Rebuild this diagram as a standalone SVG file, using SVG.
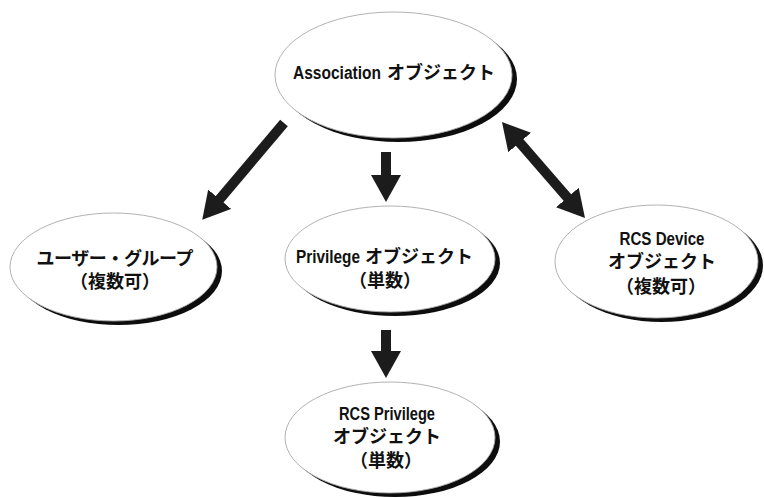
<svg xmlns="http://www.w3.org/2000/svg" width="764" height="498" viewBox="0 0 764 498">
  <style>
    .shadow { fill: #111; filter: url(#soft); }
    .body { fill: #fff; stroke: #a8a8a8; stroke-width: 0.9; }
    .lbl { font-family: "Liberation Sans", "Noto Sans CJK JP", sans-serif; font-weight: bold; font-size: 18px; fill: #111; text-anchor: middle; }
    .st { text-anchor: start; }
    .conn { stroke: #1c1c1c; stroke-width: 10; stroke-linecap: butt; fill: none; }
  </style>
  <defs>
    <filter id="soft" x="-10%" y="-10%" width="120%" height="120%">
      <feGaussianBlur stdDeviation="0.7"/>
    </filter>
    <marker id="head" markerUnits="userSpaceOnUse" markerWidth="27" markerHeight="30" viewBox="0 0 27 30" refX="1" refY="15" orient="auto-start-reverse">
      <path d="M0,0 L27,15 L0,30 Z" fill="#1c1c1c"/>
    </marker>
  </defs>
  <rect width="764" height="498" fill="#fff"/>

  <g id="connectors">
    <line class="conn" x1="284" y1="123" x2="219" y2="200" marker-end="url(#head)"/>
    <line class="conn" x1="386" y1="152" x2="386" y2="176" marker-end="url(#head)"/>
    <line class="conn" x1="519" y1="141.7" x2="568" y2="198.3" marker-start="url(#head)" marker-end="url(#head)"/>
    <line class="conn" x1="386" y1="330" x2="386" y2="352" marker-end="url(#head)"/>
  </g>

  <g id="association">
    <ellipse class="shadow" cx="398.5" cy="79" rx="118.5" ry="63"/>
    <ellipse class="body" cx="393.5" cy="75" rx="118.5" ry="63"/>
    <text class="lbl st" x="293" y="79" textLength="88" lengthAdjust="spacingAndGlyphs">Association</text>
    <text class="lbl st" x="387" y="79">オブジェクト</text>
  </g>

  <g id="user-group">
    <ellipse class="shadow" cx="118.5" cy="271" rx="103.5" ry="54"/>
    <ellipse class="body" cx="113.5" cy="267" rx="103.5" ry="54"/>
    <text class="lbl" x="115" y="265" textLength="157" lengthAdjust="spacing">ユーザー・グループ</text>
    <text class="lbl" x="115" y="288">（複数可）</text>
  </g>

  <g id="privilege">
    <ellipse class="shadow" cx="395" cy="263" rx="105" ry="53"/>
    <ellipse class="body" cx="390" cy="259" rx="105" ry="53"/>
    <text class="lbl st" x="296" y="263" textLength="64" lengthAdjust="spacingAndGlyphs">Privilege</text>
    <text class="lbl st" x="365" y="263">オブジェクト</text>
    <text class="lbl" x="385" y="287">（単数）</text>
  </g>

  <g id="rcs-device">
    <ellipse class="shadow" cx="661.5" cy="265.5" rx="101.5" ry="56.5"/>
    <ellipse class="body" cx="656.5" cy="261.5" rx="101.5" ry="56.5"/>
    <text class="lbl" x="662" y="245" textLength="85" lengthAdjust="spacingAndGlyphs">RCS Device</text>
    <text class="lbl" x="662" y="268">オブジェクト</text>
    <text class="lbl" x="661" y="293">（複数可）</text>
  </g>

  <g id="rcs-privilege">
    <ellipse class="shadow" cx="395" cy="441.5" rx="105" ry="55.5"/>
    <ellipse class="body" cx="390" cy="437.5" rx="105" ry="55.5"/>
    <text class="lbl" x="387" y="420" textLength="96" lengthAdjust="spacingAndGlyphs">RCS Privilege</text>
    <text class="lbl" x="387" y="443">オブジェクト</text>
    <text class="lbl" x="386" y="467">（単数）</text>
  </g>
</svg>
